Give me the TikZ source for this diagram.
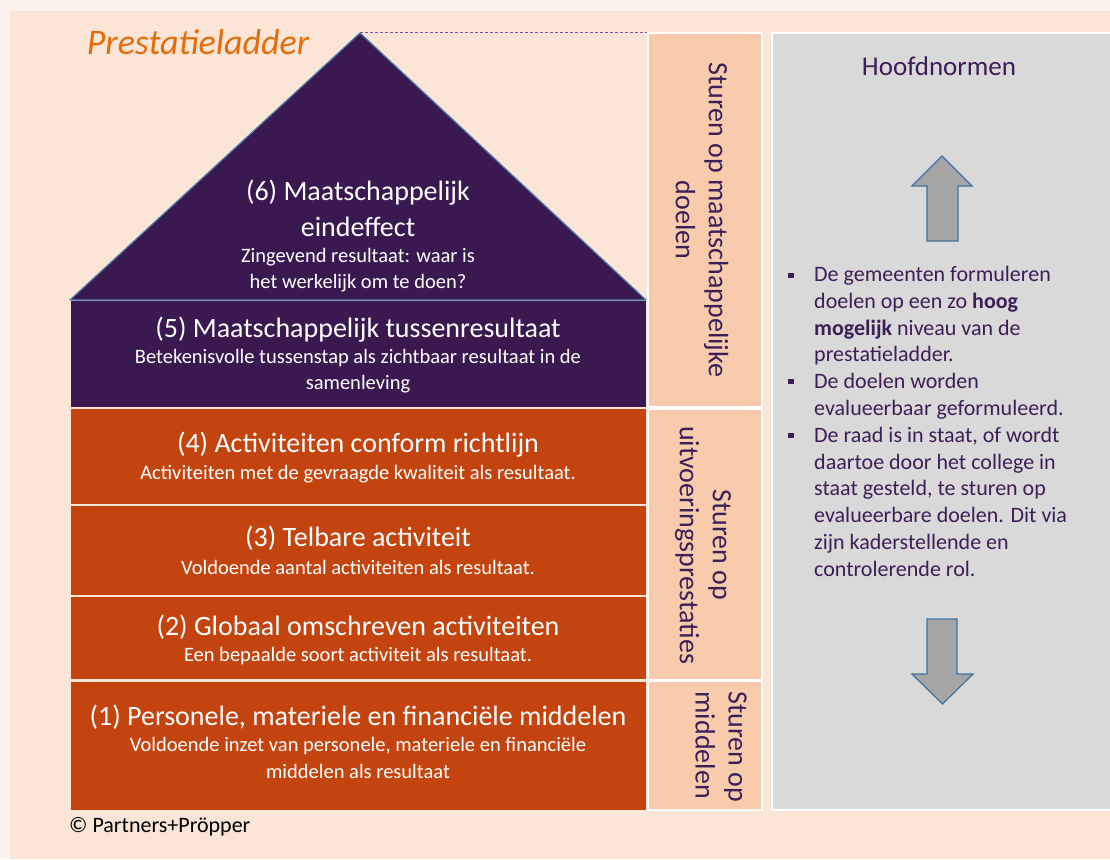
\documentclass[tikz,border=0pt]{standalone}
\usepackage{fontspec}
\setmainfont{Carlito}
\definecolor{outerbg}{HTML}{FDF3EE}
\definecolor{panelbg}{HTML}{FBE5D6}
\definecolor{purp}{HTML}{3A1951}
\definecolor{orng}{HTML}{C3440F}
\definecolor{sturfill}{HTML}{F8CBAD}
\definecolor{grayfill}{HTML}{D9D9D9}
\definecolor{txtpurp}{HTML}{3D1F57}
\definecolor{titleor}{HTML}{E46C0A}
\definecolor{arrfill}{HTML}{A5A5A5}
\definecolor{arrline}{HTML}{41719C}
\definecolor{steel}{HTML}{4A7BA8}
\definecolor{dashcol}{HTML}{6A5A9A}
\begin{document}
\begin{tikzpicture}[x=1pt,y=-1pt,
  levelbox/.style={rectangle,inner sep=0pt,draw=none,minimum width=575pt},
  maintxt/.style={text=white,font=\fontsize{28}{34}\selectfont,inner sep=0pt},
  subtxt/.style={text=white,font=\fontsize{20.5}{25}\selectfont,inner sep=0pt},
  sturbox/.style={rectangle,inner sep=0pt,fill=sturfill,draw=white,line width=1.5pt,minimum width=114pt},
  sturtxt/.style={text=txtpurp,font=\fontsize{28}{33}\selectfont,inner sep=0pt,rotate=-90},
  bultxt/.style={text=txtpurp,font=\fontsize{22}{26.8}\selectfont,inner sep=0pt,align=left},
  bigarrow/.style={fill=arrfill,draw=arrline,line width=1.2pt,line join=miter}
]
\useasboundingbox (0,0) rectangle (1110,859);
\fill[outerbg] (0,0) rectangle (1110,859);
\fill[panelbg] (10,11) rectangle (1110,859);

% title
\node[text=titleor,font=\fontsize{36}{40}\selectfont\itshape,inner sep=0pt] (title) at (198,42) {Prestatieladder};

% triangle (level 6)
\coordinate (apex) at (360,33);
\coordinate (bl) at (70,300);
\coordinate (br) at (646,300);
\fill[purp] (bl) -- (apex) -- (br) -- cycle;
\draw[steel,line width=1.2pt,line join=round] (bl) -- (apex) -- (br) -- cycle;
\coordinate (dashend) at (648,33);
\draw[dashcol,line width=1pt,dash pattern=on 3pt off 2pt] (apex) -- (dashend);

% levels
\node[levelbox,fill=purp,minimum height=106pt] (l5) at (358.5,354) {};
\node[levelbox,fill=orng,minimum height=95pt] (l4) at (358.5,456.5) {};
\node[levelbox,fill=orng,minimum height=89pt] (l3) at (358.5,550.5) {};
\node[levelbox,fill=orng,minimum height=82pt] (l2) at (358.5,638) {};
\node[levelbox,fill=orng,minimum height=128pt] (l1) at (358.5,746) {};

\node[maintxt] (t6a) at (358,193) {(6) Maatschappelijk};
\node[maintxt] (t6b) at (358,227) {eindeffect};
\node[subtxt] (s6a) at (358,257) {Zingevend resultaat: waar is};
\node[subtxt] (s6b) at (358,283) {het werkelijk om te doen?};

\node[maintxt] (t5) at (358,330) {(5) Maatschappelijk tussenresultaat};
\node[subtxt] (s5a) at (358,358) {Betekenisvolle tussenstap als zichtbaar resultaat in de};
\node[subtxt] (s5b) at (358,384) {samenleving};

\node[maintxt] (t4) at (358,445) {(4) Activiteiten conform richtlijn};
\node[subtxt] (s4) at (358,474) {Activiteiten met de gevraagde kwaliteit als resultaat.};

\node[maintxt] (t3) at (358,538) {(3) Telbare activiteit};
\node[subtxt] (s3) at (358,567) {Voldoende aantal activiteiten als resultaat.};

\node[maintxt] (t2) at (358,627) {(2) Globaal omschreven activiteiten};
\node[subtxt] (s2) at (358,656) {Een bepaalde soort activiteit als resultaat.};

\node[maintxt] (t1) at (358,717) {(1) Personele, materiele en financiële middelen};
\node[subtxt] (s1a) at (358,746) {Voldoende inzet van personele, materiele en financiële};
\node[subtxt] (s1b) at (358,771) {middelen als resultaat};

% sturen boxes
\node[sturbox,minimum height=374pt] (b1) at (705,220) {};
\node[sturbox,minimum height=271pt] (b2) at (705,544.5) {};
\node[sturbox,minimum height=129pt] (b3) at (705,745.5) {};
\node[sturtxt,align=center] (bt1) at (702,220) {Sturen op maatschappelijke\\doelen};
\node[sturtxt,align=center] (bt2) at (703,545) {Sturen op\\uitvoeringsprestaties};
\node[sturtxt,align=left] (bt3) at (721,747) {Sturen op\\middelen};

% gray panel
\node[rectangle,inner sep=0pt,fill=grayfill,draw=white,line width=1.5pt,minimum width=342pt,minimum height=777pt] (gp) at (943,421.5) {};
\node[text=txtpurp,font=\fontsize{27}{32}\selectfont,inner sep=0pt] (hn) at (939,66) {Hoofdnormen};

% arrows
\draw[bigarrow] (927,241) -- (927,186) -- (912,186) -- (942,156) -- (972,186) -- (958,186) -- (958,241) -- cycle;
\draw[bigarrow] (927,619) -- (927,674) -- (912,674) -- (942.5,704) -- (973,674) -- (957,674) -- (957,619) -- cycle;

% bullets
\foreach \yy in {275,381,435} \fill[txtpurp] (788,\yy-2.5) rectangle ++(5.5,5.5);
\node[bultxt,anchor=north west] (bl1) at (814,266) {De gemeenten formuleren\\doelen op een zo \textbf{hoog}\\\textbf{mogelijk} niveau van de\\prestatieladder.\\De doelen worden\\evalueerbaar geformuleerd.\\De raad is in staat, of wordt\\daartoe door het college in\\staat gesteld, te sturen op\\evalueerbare doelen. Dit via\\zijn kaderstellende en\\controlerende rol.};

% copyright
\node[text=black,font=\fontsize{22}{26}\selectfont,inner sep=0pt,anchor=west] (copy) at (69,827) {© Partners+Pröpper};
\end{tikzpicture}
\end{document}
